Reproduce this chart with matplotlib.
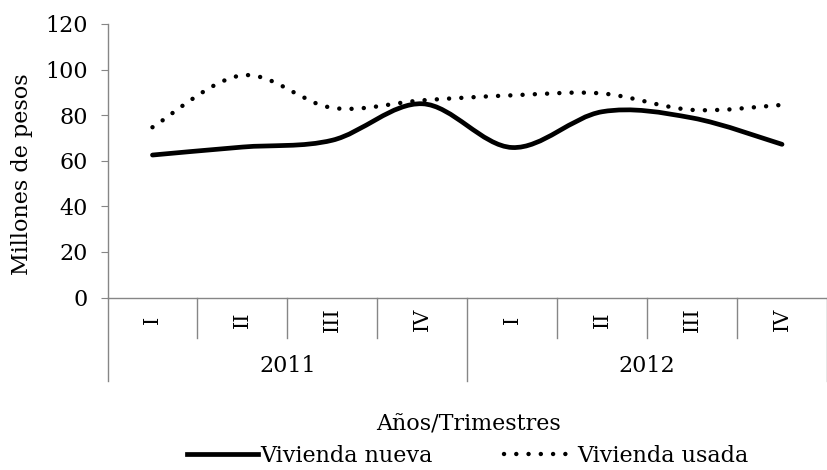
import numpy as np
import matplotlib
matplotlib.use("Agg")
import matplotlib.pyplot as plt
import matplotlib.transforms as mtransforms
from matplotlib.path import Path
from matplotlib.patches import PathPatch
from matplotlib.lines import Line2D

# --- data ---
years = ["2011", "2012"]
quarters = ["I", "II", "III", "IV"]
nueva = [62.5, 66.0, 69.0, 85.0, 65.8, 81.5, 78.8, 67.2]
usada = [74.7, 97.5, 83.2, 86.5, 88.7, 89.5, 82.3, 84.5]

plt.rcParams["font.family"] = ["DejaVu Serif"]
GRAY = "#868686"
FS = 16


def smooth_path(xs, ys):
    """Excel-like smoothed line: cubic Bezier segments through the points."""
    pts = np.column_stack([xs, ys]).astype(float)
    n = len(pts)
    verts = [pts[0]]
    codes = [Path.MOVETO]
    for i in range(n - 1):
        p0 = pts[max(i - 1, 0)]
        p1 = pts[i]
        p2 = pts[i + 1]
        p3 = pts[min(i + 2, n - 1)]
        verts += [p1 + (p2 - p0) / 6, p2 - (p3 - p1) / 6, p2]
        codes += [Path.CURVE4] * 3
    return Path(verts, codes)


fig = plt.figure(figsize=(8.27, 4.70), dpi=100)
ax = fig.add_axes([0.130, 0.367, 0.870, 0.582])

x = np.arange(len(nueva))
ax.add_patch(PathPatch(smooth_path(x, nueva), fill=False, color="black",
                       lw=3.4, capstyle="round", joinstyle="round"))
ax.add_patch(PathPatch(smooth_path(x, usada), fill=False, color="black",
                       lw=3.2, linestyle=(0, (0.01, 2.75)), capstyle="round"))

ax.set_xlim(-0.5, len(nueva) - 0.5)
ax.set_ylim(0, 120)
ax.set_yticks(range(0, 121, 20))
ax.tick_params(axis="y", direction="out", length=5, color=GRAY,
               labelsize=FS, pad=9)
ax.set_xticks([])
for s in ["top", "right"]:
    ax.spines[s].set_visible(False)
for s in ["left", "bottom"]:
    ax.spines[s].set_color(GRAY)
    ax.spines[s].set_linewidth(1.0)

ax.set_ylabel("Millones de pesos", fontsize=FS)
ax.yaxis.set_label_coords(-0.104, 0.45)

# two-level category axis
trans = mtransforms.blended_transform_factory(ax.transData, ax.transAxes)
labels = [q for _ in years for q in quarters]
for i, lab in enumerate(labels):
    ax.text(i, -0.08, lab, rotation=90, ha="center", va="center",
            fontsize=FS - 1, transform=trans)
for b in np.arange(-0.5, len(labels), 1.0):
    low = -0.307 if (b + 0.5) % len(quarters) == 0 else -0.147
    ax.plot([b, b], [0, low], color=GRAY, lw=1.0, transform=trans,
            clip_on=False)
for j, yr in enumerate(years):
    center = j * len(quarters) + (len(quarters) - 1) / 2
    ax.text(center, -0.252, yr, ha="center", va="center", fontsize=FS,
            transform=trans)

fig.text(0.566, 0.096, "Años/Trimestres", ha="center", va="center",
         fontsize=FS)

handles = [
    Line2D([], [], color="black", lw=3.4, label="Vivienda nueva"),
    Line2D([], [], color="black", lw=3.2, linestyle=(0, (0.01, 2.75)),
           dash_capstyle="round", label="Vivienda usada"),
]
fig.legend(handles=handles, loc="center", bbox_to_anchor=(0.566, 0.03),
           ncol=2, frameon=False, fontsize=FS, handlelength=3.2,
           handletextpad=0.1, columnspacing=3.2, borderpad=0.1)

fig.savefig("out.png", dpi=100)
